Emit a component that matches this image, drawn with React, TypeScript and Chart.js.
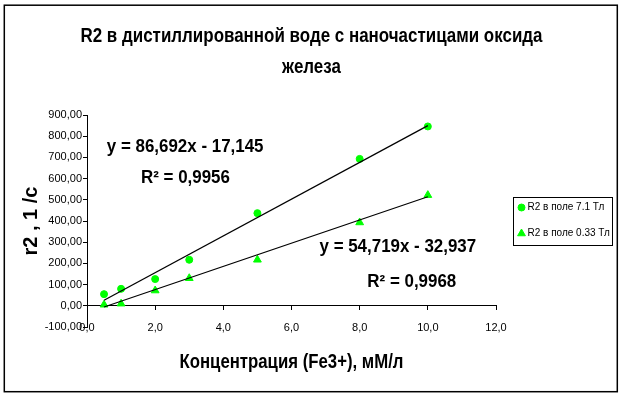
import React, { useEffect, useRef } from 'react';
import { Chart, registerables } from 'chart.js';
import { drawPoint } from 'chart.js/helpers';

Chart.register(...registerables);

// ---- data ----
const TITLE_LINES = ['R2 в дистиллированной воде с наночастицами оксида', 'железа'];
const X_TITLE = 'Концентрация (Fe3+), мМ/л';
const Y_TITLE = 'r2 , 1 /c';
const SERIES_NAMES = ['R2 в поле 7.1 Тл', 'R2 в поле 0.33 Тл'];
const concentrations = [0.5, 1, 2, 3, 5, 8, 10];
const r2Field71 = [55, 80, 126, 217, 437, 693, 846];
const r2Field033 = [5, 10, 72, 130, 217, 393, 522];
const trendSlopes = [86.692, 54.719];
const trendIntercepts = [-17.145, -32.937];
const trendR2 = [0.9956, 0.9968];
const xTickValues = [0, 2, 4, 6, 8, 10, 12];
const yTickValues = [-100, 0, 100, 200, 300, 400, 500, 600, 700, 800, 900];

// ---- styles ----
const SANS = '"Liberation Sans", Arial, sans-serif';
const GREEN = '#00ff00';
const TITLE_FONT = `bold 21px ${SANS}`;
const TITLE_WIDTH = 462; // condensed width of the first title line
const XTITLE_FONT = `bold 21px ${SANS}`;
const XTITLE_WIDTH = 224;
const LABEL_FONT = `bold 18px ${SANS}`;
const LABEL_SCALE = 0.94;

const comma = (v: number, d: number) => v.toFixed(d).replace('.', ',');
const eqText = (i: number) => {
  const b = trendIntercepts[i];
  return `y = ${comma(trendSlopes[i], 3)}x ${b < 0 ? '-' : '+'} ${comma(Math.abs(b), 3)}`;
};
const r2Text = (i: number) => `R² = ${comma(trendR2[i], 4)}`;

// label anchors in data coordinates
const TREND_LABELS = [
  { text: eqText(0), x: 2.88, y: 749 },
  { text: r2Text(0), x: 2.89, y: 603 },
  { text: eqText(1), x: 9.12, y: 277 },
  { text: r2Text(1), x: 9.53, y: 112 },
];

const trendPoints = (i: number) => {
  const xs = [concentrations[0], concentrations[concentrations.length - 1]];
  return xs.map((x) => ({ x, y: trendSlopes[i] * x + trendIntercepts[i] }));
};

function condensedText(ctx: CanvasRenderingContext2D, text: string, cx: number, cy: number, sx: number) {
  ctx.save();
  ctx.translate(cx, cy);
  ctx.scale(sx, 1);
  ctx.fillText(text, 0, 0);
  ctx.restore();
}

const decorPlugin = {
  id: 'decor',
  afterDraw(chart: any) {
    const { ctx, chartArea, scales, width } = chart;
    const xs = scales.x;
    const ys = scales.y;
    ctx.save();
    ctx.fillStyle = '#000';
    ctx.textAlign = 'center';
    ctx.textBaseline = 'middle';

    // chart title (two lines, condensed)
    ctx.font = TITLE_FONT;
    const tsx = Math.min(1, TITLE_WIDTH / ctx.measureText(TITLE_LINES[0]).width);
    TITLE_LINES.forEach((line, i) => condensedText(ctx, line, width / 2, 36 + i * 31, tsx));

    // x-axis title, centred under the plot area
    ctx.font = XTITLE_FONT;
    const xsx = Math.min(1, XTITLE_WIDTH / ctx.measureText(X_TITLE).width);
    condensedText(ctx, X_TITLE, (chartArea.left + chartArea.right) / 2, chartArea.bottom + 35, xsx);

    // trendline labels
    ctx.font = LABEL_FONT;
    for (const l of TREND_LABELS) {
      condensedText(ctx, l.text, xs.getPixelForValue(l.x), ys.getPixelForValue(l.y), LABEL_SCALE);
    }

    // legend
    const lx = Math.round(chartArea.right + 17) + 0.5;
    const ly = Math.round((chartArea.top + chartArea.bottom) / 2 - 24) + 0.5;
    ctx.lineWidth = 1;
    ctx.strokeStyle = '#000';
    ctx.strokeRect(lx, ly, 99, 48);
    ctx.font = `10px ${SANS}`;
    ctx.textAlign = 'left';
    ctx.fillStyle = GREEN;
    ctx.strokeStyle = GREEN;
    drawPoint(ctx, { pointStyle: 'circle', radius: 3.5, rotation: 0, borderWidth: 1 } as any, lx + 8, ly + 10);
    drawPoint(ctx, { pointStyle: 'triangle', radius: 4.5, rotation: 0, borderWidth: 1 } as any, lx + 8, ly + 36);
    ctx.fillStyle = '#000';
    ctx.fillText(SERIES_NAMES[0], lx + 14, ly + 10);
    ctx.fillText(SERIES_NAMES[1], lx + 14, ly + 36);

    // outer frame
    ctx.lineWidth = 1.5;
    ctx.strokeStyle = '#000';
    ctx.strokeRect(4.3, 5.2, 613, 386.5);
    ctx.restore();
  },
};

export default function App() {
  const ref = useRef<HTMLCanvasElement>(null);
  useEffect(() => {
    if (!ref.current) return;
    const chart = new Chart(ref.current, {
      type: 'scatter',
      data: {
        datasets: [
          {
            label: 'trend 7.1',
            data: trendPoints(0),
            showLine: true,
            borderColor: '#000',
            borderWidth: 1.25,
            pointRadius: 0,
            order: 0,
          },
          {
            label: 'trend 0.33',
            data: trendPoints(1),
            showLine: true,
            borderColor: '#000',
            borderWidth: 1.25,
            pointRadius: 0,
            order: 0,
          },
          {
            label: SERIES_NAMES[0],
            data: concentrations.map((x, i) => ({ x, y: r2Field71[i] })),
            pointStyle: 'circle',
            pointRadius: 3.5,
            backgroundColor: GREEN,
            borderColor: GREEN,
            borderWidth: 1,
            order: 1,
          },
          {
            label: SERIES_NAMES[1],
            data: concentrations.map((x, i) => ({ x, y: r2Field033[i] })),
            pointStyle: 'triangle',
            pointRadius: 4.5,
            backgroundColor: GREEN,
            borderColor: GREEN,
            borderWidth: 1,
            order: 1,
          },
        ],
      } as any,
      options: {
        responsive: false,
        animation: false,
        devicePixelRatio: 1,
        layout: { padding: { top: 115, bottom: 72, left: 0, right: 127 } },
        plugins: {
          legend: { display: false },
          tooltip: { enabled: false },
          title: { display: false },
        },
        scales: {
          x: {
            type: 'linear',
            position: { y: 0 },
            min: xTickValues[0],
            max: xTickValues[xTickValues.length - 1],
            afterBuildTicks: (s: any) => {
              s.ticks = xTickValues.map((value) => ({ value }));
            },
            ticks: {
              callback: (v: any) => comma(Number(v), 1),
              font: { family: SANS, size: 11 },
              color: '#000',
              padding: 12,
              maxRotation: 0,
              autoSkip: false,
            },
            grid: { drawOnChartArea: false, drawTicks: true, tickLength: 4, color: '#000' },
            border: { color: '#000', width: 1 },
          },
          y: {
            type: 'linear',
            position: 'left',
            min: yTickValues[0],
            max: yTickValues[yTickValues.length - 1],
            afterBuildTicks: (s: any) => {
              s.ticks = yTickValues.map((value) => ({ value }));
            },
            afterFit: (s: any) => {
              s.width = 87;
            },
            ticks: {
              callback: (v: any) => comma(Number(v), 2),
              font: { family: SANS, size: 11 },
              color: '#000',
              padding: 1,
              autoSkip: false,
            },
            title: {
              display: true,
              text: Y_TITLE,
              color: '#000',
              font: { family: SANS, size: 20, weight: 'bold', lineHeight: 1.2 },
              padding: { top: 19, bottom: 0 },
            },
            grid: { drawOnChartArea: false, drawTicks: true, tickLength: 4, color: '#000' },
            border: { color: '#000', width: 1 },
          },
        },
      } as any,
      plugins: [decorPlugin],
    });
    return () => chart.destroy();
  }, []);

  return (
    <div style={{ width: 623, height: 399, background: '#fff' }}>
      <style>{'body{margin:0}'}</style>
      <canvas ref={ref} width={623} height={399} style={{ display: 'block' }} />
    </div>
  );
}
